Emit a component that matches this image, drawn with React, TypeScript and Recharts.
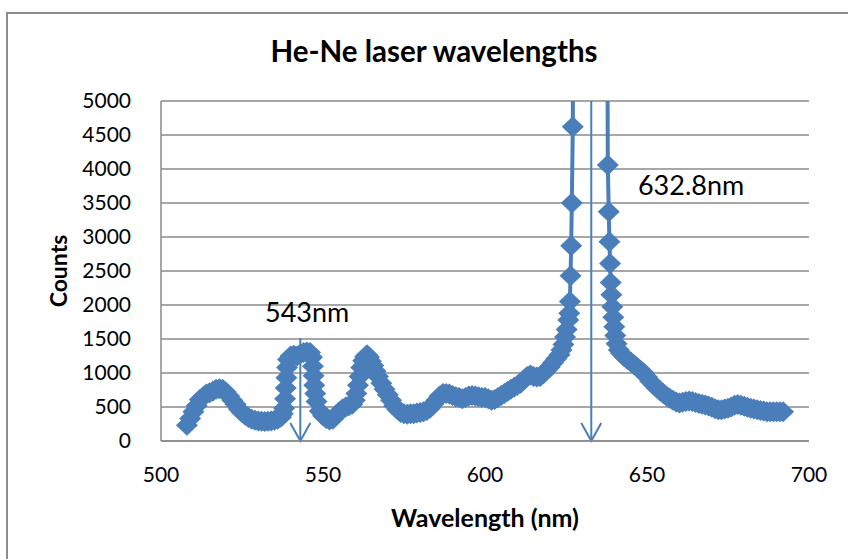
import { LineChart, Line, XAxis, YAxis, CartesianGrid, ReferenceLine, ReferenceDot } from 'recharts';

// spectrum (nm, counts); the 632.8 line runs far off scale
const wavelengths = [
  508, 509, 510, 511, 512, 513, 514, 515, 516, 517, 518, 519, 520, 521, 522, 523, 524, 525, 526, 527, 528, 529, 530,
  531, 532, 533, 534, 535, 536, 537,
  537.6, 538.0, 538.3, 538.5, 538.7, 538.9, 539.2, 540, 541, 542, 543, 544, 545, 546, 546.6, 546.9, 547.1, 547.3,
  547.6, 548.0, 549, 550, 551, 552, 553, 554, 555, 556, 557, 558, 559,
  559.8, 560.3, 560.8, 561.3, 561.8, 562.4, 563.0, 563.6, 564.2, 564.8, 565.5, 566.2, 567, 568, 569, 570, 571, 572,
  573, 574, 575, 576, 577, 578, 579, 580, 581, 582,
  583, 584, 585, 586, 587, 588, 589, 590, 591, 592, 593, 594, 595, 596, 597, 598, 599, 600, 601, 602, 603, 604, 605,
  606, 607, 608, 609, 610, 611, 612, 613, 614, 615, 616, 617, 618, 619, 620, 621, 622,
  623, 623.6, 624.2, 624.7, 625.2, 625.7, 626.0, 626.2, 626.4, 626.6, 626.8, 627.1, 627.4, 628.5, 630.5, 632.8, 635,
  636.8, 637.6, 637.9, 638.2, 638.4, 638.6, 638.8, 639.0, 639.3, 639.6, 639.9, 640.2, 640.6, 641.3, 642,
  643, 644, 645, 646, 647, 648, 649, 650, 651, 652, 653, 654, 655, 656, 657, 658, 659, 660, 661, 662, 663, 664, 665,
  666, 667, 668, 669, 670, 671, 672, 673, 674, 675, 676, 677, 678, 679, 680, 681, 682, 683, 684, 685, 686, 687, 688,
  689, 690, 691, 692,
];
const counts = [
  230, 330, 430, 520, 610, 650, 690, 710, 730, 760, 770, 760, 720, 660, 600, 540, 470, 420, 380, 345, 320, 305, 295,
  290, 285, 290, 295, 305, 320, 350,
  400, 480, 620, 780, 930, 1080, 1200, 1250, 1260, 1250, 1280, 1300, 1310, 1300, 1230, 1100, 960, 820,
  700, 580, 440, 370, 330, 310, 320, 370, 430, 470, 500, 520, 540,
  600, 700, 820, 950, 1080, 1180, 1240, 1270, 1230, 1170, 1110, 1030, 950, 850, 760, 680, 600, 520,
  460, 420, 400, 395, 400, 400, 410, 420, 430, 450,
  480, 540, 600, 660, 700, 700, 690, 670, 650, 640, 620, 640, 660, 670, 660, 650, 640, 640, 620, 600, 610, 640, 670,
  700, 730, 760, 790, 820, 850, 900, 950, 970, 950, 940, 950, 990, 1040, 1090, 1150, 1210,
  1270, 1340, 1420, 1530, 1640, 1780, 1880, 2050, 2430, 2870, 3500, 4620, 9000, 25000, 60000, 80000, 60000,
  25000, 9000, 4060, 3370, 2930, 2610, 2330, 2150, 1975, 1820, 1680, 1550, 1430, 1340, 1290,
  1240, 1200, 1160, 1120, 1080, 1040, 1000, 940, 880, 830, 780, 740, 700, 660, 630, 600, 575, 560, 570, 580, 590, 580, 565,
  550, 540, 530, 515, 495, 475, 460, 460, 470, 480, 500, 525, 535, 525, 510, 495, 480, 470, 460, 450, 440, 430, 430,
  430, 430, 430, 430,
];

const xTicks = [500, 550, 600, 650, 700];
const yTicks = [0, 500, 1000, 1500, 2000, 2500, 3000, 3500, 4000, 4500, 5000];

// the two marked lines: arrow position, arrow top, label text and label anchor
const lineWavelengths = [543, 632.8];
const arrowTops = [1515, 5000];
const lineLabels = ['543nm', '632.8nm'];
const labelWavelengths = [545.1, 663.6];
const labelCounts = [1890, 3765];

const data = wavelengths.map((w, i) => ({ wavelength: w, counts: counts[i] }));

const BLUE = '#4A7EBB';
const GRID = '#8A8A8A';
const FONT = 'Lato, "Open Sans", sans-serif';

function Diamond(props: any) {
  const { cx, cy, index } = props;
  if (cx == null || cy == null) return <g key={`d-${index}`} />;
  return (
    <path
      key={`d-${index}`}
      d={`M${cx},${cy - 10.5}L${cx + 11},${cy}L${cx},${cy + 10.5}L${cx - 11},${cy}Z`}
      fill={BLUE}
    />
  );
}

function Arrow(props: any) {
  const { x1, y1, x2, y2 } = props;
  return (
    <g>
      <line x1={x1} y1={y1} x2={x2} y2={y2} stroke={BLUE} strokeWidth={2} />
      <polyline
        points={`${x2 - 10},${y2 - 18} ${x2},${y2} ${x2 + 10},${y2 - 18}`}
        fill="none"
        stroke={BLUE}
        strokeWidth={2}
      />
    </g>
  );
}

export default function App() {
  return (
    <div style={{ position: 'absolute', left: 0, top: 0, width: 848, height: 559, overflow: 'hidden', background: '#fff' }}>
      <div
        style={{
          position: 'absolute',
          left: 6,
          top: 12,
          width: 900,
          height: 600,
          border: '2px solid #8C8C8C',
          boxSizing: 'border-box',
        }}
      />
      <div style={{ position: 'absolute', left: 0, top: 0 }}>
        <LineChart width={848} height={559} data={data} margin={{ top: 101, right: 39, bottom: 78, left: 101 }}>
          <CartesianGrid vertical={false} stroke={GRID} strokeWidth={1.5} />
          <XAxis
            dataKey="wavelength"
            type="number"
            domain={[500, 700]}
            ticks={xTicks}
            height={40}
            stroke={GRID}
            strokeWidth={1.5}
            tickLine={false}
            tickSize={0}
            tickMargin={26}
            tick={{ fontSize: 21, fill: '#000', fontFamily: FONT }}
          />
          <YAxis
            type="number"
            domain={[0, 5000]}
            ticks={yTicks}
            allowDataOverflow
            width={60}
            stroke={GRID}
            strokeWidth={1.5}
            tickLine={false}
            tickSize={0}
            tickMargin={30}
            tick={{ fontSize: 21, fill: '#000', fontFamily: FONT }}
          />
          <Line
            dataKey="counts"
            type="linear"
            stroke={BLUE}
            strokeWidth={4}
            dot={Diamond}
            activeDot={false}
            isAnimationActive={false}
          />
          {lineWavelengths.map((w, i) => (
            <ReferenceLine
              key={`arrow-${i}`}
              segment={[
                { x: w, y: arrowTops[i] },
                { x: w, y: 0 },
              ]}
              shape={Arrow}
            />
          ))}
          {lineLabels.map((t, i) => (
            <ReferenceDot
              key={`lab-${i}`}
              x={labelWavelengths[i]}
              y={labelCounts[i]}
              r={0}
              fill="none"
              stroke="none"
              label={{ value: t, position: 'center', fontSize: 27, fill: '#000', fontFamily: FONT }}
            />
          ))}
        </LineChart>
      </div>
      <svg width={848} height={559} style={{ position: 'absolute', left: 0, top: 0, pointerEvents: 'none' }}>
        <text x={434} y={62} textAnchor="middle" fontFamily={FONT} fontWeight={700} fontSize={29.5} fill="#000">
          He-Ne laser wavelengths
        </text>
        <text
          transform="translate(67,271) rotate(-90)"
          textAnchor="middle"
          fontFamily={FONT}
          fontWeight={700}
          fontSize={23}
          fill="#000"
        >
          Counts
        </text>
        <text x={485} y={527} textAnchor="middle" fontFamily={FONT} fontWeight={700} fontSize={25} fill="#000">
          Wavelength (nm)
        </text>
      </svg>
    </div>
  );
}
